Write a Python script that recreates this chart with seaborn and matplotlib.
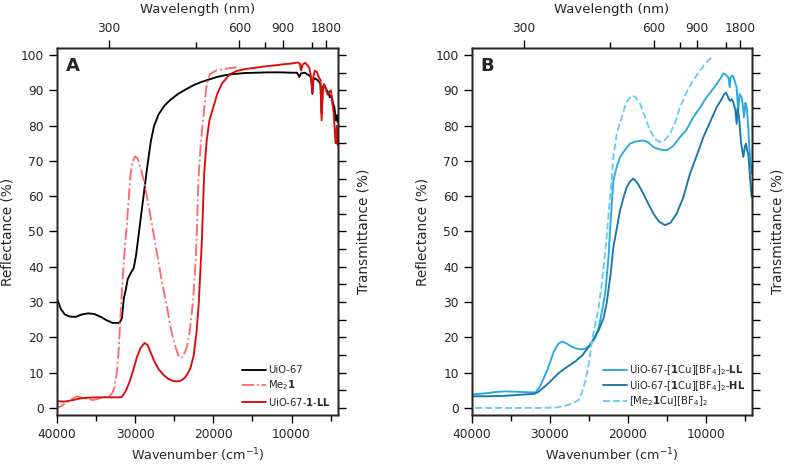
import numpy as np
import matplotlib
matplotlib.use("Agg")
import matplotlib.pyplot as plt
import seaborn as sns

# panel A - UiO-67
uio_wn = [40000, 39500, 39000, 38400, 37600, 36800, 36000, 35200, 34400, 33700, 32900, 32000,
          31700, 31450, 31200, 30950, 30500, 30200, 29900, 29500, 29000, 28500, 28000, 27600,
          27000, 26200, 25500, 24500, 23500, 22500, 21500, 20500, 19500, 18500, 17500, 16000,
          14500, 13000, 11500, 10000, 9300, 9000, 8800, 8300, 7800, 7500, 7330, 7200, 7000,
          6600, 6300, 6150, 6000, 5800, 5500, 5300, 5100, 4900, 4700, 4500, 4350, 4200, 4100]
uio_r = [31.0, 28.0, 26.5, 25.9, 25.8, 26.5, 26.8, 26.6, 25.8, 24.9, 24.1, 24.1,
         25.4, 31.0, 33.5, 36.5, 38.5, 39.5, 43.0, 50.0, 58.8, 67.5, 75.5, 79.8,
         83.2, 85.8, 87.3, 89.0, 90.3, 91.5, 92.4, 93.1, 93.8, 94.3, 94.6, 94.9,
         95.0, 95.1, 95.1, 95.0, 95.0, 93.8, 94.8, 95.0, 94.3, 93.8, 89.0, 93.0, 93.4,
         92.8, 91.8, 83.5, 91.0, 91.5, 90.0, 89.5, 88.0, 88.5, 86.5, 85.0, 81.5, 83.0, 81.0]

# panel A - Me2 1
me1_wn = [40000, 39500, 39000, 38500, 38000, 37400, 37000, 36500, 36000, 35500, 35000, 34500,
          34000, 33300, 32900, 32600, 32300, 32100, 31900, 31700, 31500, 31300, 31060, 30800,
          30600, 30300, 30010, 29700, 29350, 28900, 28490, 27900, 27210, 26600, 25930, 25400,
          24860, 24500, 24220, 23900, 23600, 23360, 23000, 22700, 22500, 22250, 22080, 21920,
          21600, 21280, 20850, 20430, 19570, 18500, 17860, 17000]
me1_r = [0.0, 0.5, 1.2, 2.0, 2.6, 3.3, 3.0, 2.6, 2.8, 2.2, 2.4, 2.8,
         3.0, 3.3, 4.3, 6.1, 11.0, 16.5, 25.0, 33.0, 40.0, 46.0, 52.0, 60.0,
         66.0, 70.0, 71.3, 70.8, 68.3, 64.5, 59.8, 52.5, 43.8, 36.0, 28.7, 22.0,
         17.4, 15.0, 14.1, 14.6, 16.0, 17.4, 22.0, 28.0, 33.4, 42.0, 51.3, 64.5,
         75.0, 82.4, 91.8, 94.6, 95.7, 96.1, 96.3, 96.5]

# panel A - UiO-67-1-LL
ll1_wn = [40000, 39000, 38000, 37000, 36000, 35000, 34000, 33000, 32000, 31700, 31200, 30700,
          30200, 29800, 29300, 28800, 28400, 28000, 27500, 27000, 26400, 25800, 25200, 24700,
          24200, 23700, 23300, 22900, 22500, 22150, 21890, 21460, 21170, 20850, 20500, 20000,
          19500, 18930, 18300, 17860, 17000, 16000, 15000, 14000, 13000, 12000, 11000, 10000,
          9200, 8950, 8770, 8600, 8250, 7900, 7700, 7450, 7330, 7200, 7000, 6750, 6500, 6300,
          6150, 6000, 5850, 5600, 5400, 5200, 4950, 4800, 4600, 4450, 4350, 4200, 4100]
ll1_r = [1.9, 1.8, 2.2, 2.7, 2.9, 3.0, 3.0, 3.0, 3.0, 3.1, 4.8, 7.5,
         11.0, 14.2, 17.0, 18.4, 17.8, 15.6, 13.0, 11.0, 9.4, 8.3, 7.7, 7.5,
         7.7, 8.4, 9.6, 11.5, 15.0, 21.5, 28.7, 47.5, 66.4, 75.8, 81.5, 85.2,
         89.0, 91.8, 93.5, 94.6, 95.5, 96.0, 96.3, 96.6, 96.9, 97.1, 97.4, 97.6,
         97.9, 97.6, 95.6, 97.3, 97.8, 97.0, 96.2, 93.0, 89.4, 94.0, 95.6, 95.2, 93.6, 93.0,
         81.5, 90.0, 91.8, 90.4, 88.8, 89.5, 90.0, 87.0, 83.4, 78.0, 75.0, 80.0, 74.5]

# panel B - UiO-67-[1Cu][BF4]2-LL
cll_wn = [40000, 39000, 38000, 37000, 35700, 34500, 33500, 32500, 31850, 31300, 30770, 30200,
          29490, 28900, 28420, 27900, 27300, 26720, 26000, 25440, 24800, 24150, 23700, 23300,
          22870, 22500, 22200, 21850, 21400, 20990, 20400, 19710, 19000, 18000, 17400, 16720,
          15800, 15000, 14200, 13300, 12500, 11590, 10700, 9880, 9200, 8600, 8000, 7750, 7530,
          7250, 7100, 6910, 6800, 6600, 6460, 6250, 6040, 5820, 5650, 5380, 5200, 5090, 4900,
          4740, 4550, 4410, 4250, 4100]
cll_r = [3.8, 4.0, 4.2, 4.5, 4.7, 4.6, 4.5, 4.4, 4.4, 6.0, 8.5, 11.5,
         16.0, 18.2, 18.8, 18.3, 17.5, 16.9, 16.6, 16.8, 17.8, 20.0, 23.0, 27.5,
         33.0, 42.0, 53.0, 64.5, 68.5, 71.1, 73.0, 74.9, 75.5, 75.8, 75.3, 73.9,
         73.2, 73.0, 74.2, 76.7, 78.7, 82.4, 85.2, 88.1, 90.0, 91.8, 93.7, 94.8, 94.6,
         94.0, 93.7, 90.9, 93.7, 94.2, 94.0, 92.5, 90.9, 84.3, 89.0, 87.9, 85.0, 82.4, 86.5,
         85.2, 80.0, 73.9, 70.0, 66.4]

# panel B - UiO-67-[1Cu][BF4]2-HL
chl_wn = [40000, 38000, 36000, 34000, 32000, 31500, 30800, 30130, 29500, 28800, 28000, 27400,
          26720, 25800, 25000, 24400, 23720, 23100, 22690, 22200, 21850, 21400, 20990, 20500,
          20130, 19700, 19280, 18700, 18000, 17400, 16720, 16000, 15220, 14500, 13720, 12900,
          12010, 11100, 10310, 9400, 8600, 7950, 7600, 7400, 7150, 6890, 6650, 6460, 6200,
          6030, 5900, 5700, 5500, 5380, 5170, 4980, 4830, 4680, 4530, 4300, 4100]
chl_r = [3.3, 3.3, 3.4, 3.7, 4.0, 4.5, 5.8, 7.1, 8.5, 10.0, 11.3, 12.2,
         13.2, 15.0, 17.4, 19.5, 22.1, 25.5, 30.0, 38.0, 45.6, 51.0, 56.0, 60.0,
         62.6, 64.2, 65.0, 63.5, 60.7, 58.0, 55.1, 52.8, 51.8, 52.5, 55.1, 59.5,
         66.4, 71.8, 76.7, 81.2, 85.2, 87.5, 89.0, 89.4, 88.2, 87.0, 87.5, 86.6, 84.5,
         80.5, 85.0, 82.0, 76.0, 73.9, 71.1, 74.0, 74.9, 73.0, 72.0, 65.0, 59.8]

# panel B - [Me2 1Cu][BF4]2
mcu_wn = [40000, 37000, 34000, 31000, 29300, 28500, 27570, 26900, 26280, 25700, 25220, 24900,
          24580, 24150, 23720, 23300, 22900, 22500, 22100, 21850, 21400, 20770, 20200, 19490,
          19000, 18420, 17800, 17140, 16500, 15860, 15200, 14580, 13900, 13300, 12600, 12010,
          11300, 10730, 10100, 9450, 9300]
mcu_r = [0.0, 0.0, 0.0, 0.0, 0.1, 0.4, 0.9, 1.5, 2.3, 5.5, 9.9, 14.0,
         19.3, 24.0, 28.7, 36.0, 44.0, 54.0, 64.0, 71.0, 78.0, 82.4, 86.5, 88.6,
         88.0, 86.2, 82.5, 78.6, 76.2, 75.3, 76.0, 77.7, 81.0, 85.2, 88.7, 91.4,
         93.8, 95.6, 97.5, 98.9, 99.2]

top_major_nm = [300, 600, 900, 1800]
top_minor_nm = [450, 750, 1350]

sns.set_theme(style="ticks")
plt.rcParams['font.family'] = ['DejaVu Sans']
plt.rcParams['mathtext.fontset'] = 'dejavusans'
plt.rcParams['axes.linewidth'] = 1.0
plt.rcParams['xtick.direction'] = 'out'
plt.rcParams['ytick.direction'] = 'out'

fig = plt.figure(figsize=(7.87, 4.72), dpi=100)
axA = fig.add_axes([0.0724, 0.1208, 0.357, 0.7775])
axB = fig.add_axes([0.5997, 0.1208, 0.3558, 0.7775])

lw = 1.35
sns.lineplot(x=uio_wn, y=uio_r, ax=axA, color='black', lw=lw, label='UiO-67')
sns.lineplot(x=me1_wn, y=me1_r, ax=axA, color='#ff6b6b', lw=lw, linestyle='-.', label=r'Me$_2$$\mathbf{1}$')
sns.lineplot(x=ll1_wn, y=ll1_r, ax=axA, color='#dd0a0a', lw=lw, label=r'UiO-67-$\mathbf{1}$-$\mathbf{LL}$')

sns.lineplot(x=cll_wn, y=cll_r, ax=axB, color='#27a9e1', lw=lw,
             label=r'UiO-67-[$\mathbf{1}$Cu][BF$_4$]$_2$-$\mathbf{LL}$')
sns.lineplot(x=chl_wn, y=chl_r, ax=axB, color='#1877ab', lw=lw,
             label=r'UiO-67-[$\mathbf{1}$Cu][BF$_4$]$_2$-$\mathbf{HL}$')
sns.lineplot(x=mcu_wn, y=mcu_r, ax=axB, color='#66cdf2', lw=lw, linestyle='--',
             label=r'[Me$_2$$\mathbf{1}$Cu][BF$_4$]$_2$')

for ax, letter, lsp in [(axA, 'A', 0.35), (axB, 'B', 0.15)]:
    ax.set_xlim(40000, 4060)
    ax.set_ylim(-2, 102)
    ax.set_xticks([40000, 30000, 20000, 10000])
    ax.set_xticks([35000, 25000, 15000, 5000], minor=True)
    ax.set_yticks(range(0, 101, 10))
    ax.tick_params(axis='both', which='major', labelsize=8.8, length=6, width=1, color='black')
    ax.tick_params(axis='x', which='minor', length=4, width=1, color='black')
    ax.set_xlabel('Wavenumber (cm$^{-1}$)', fontsize=9.2)
    ax.set_ylabel('Reflectance (%)', fontsize=9.8)
    for s in ax.spines.values():
        s.set_color('black')
    ax.text(0.03, 0.975, letter, transform=ax.transAxes, fontsize=13, fontweight='bold',
            va='top', ha='left')
    ax.legend(loc='lower right', frameon=False, fontsize=7.2, handlelength=2.4,
              labelspacing=lsp, handletextpad=0.2, borderaxespad=0.3)

    # right axis: transmittance ticks only
    axr = ax.twinx()
    axr.set_ylim(ax.get_ylim())
    axr.set_yticks(range(0, 101, 5))
    axr.set_yticklabels([])
    axr.tick_params(axis='y', length=6, width=1, color='black')
    axr.set_ylabel('Transmittance (%)', fontsize=9.8, labelpad=4)

    # top axis: wavelength
    axt = ax.twiny()
    axt.set_xlim(ax.get_xlim())
    axt.set_xticks([1e7 / nm for nm in top_major_nm])
    axt.set_xticklabels([str(nm) for nm in top_major_nm])
    axt.set_xticks([1e7 / nm for nm in top_minor_nm], minor=True)
    axt.tick_params(axis='x', which='major', labelsize=8.8, length=6, width=1, color='black')
    axt.tick_params(axis='x', which='minor', length=4, width=1, color='black')
    axt.set_xlabel('Wavelength (nm)', fontsize=9.5, labelpad=6)

fig.savefig('out.png', dpi=100)
